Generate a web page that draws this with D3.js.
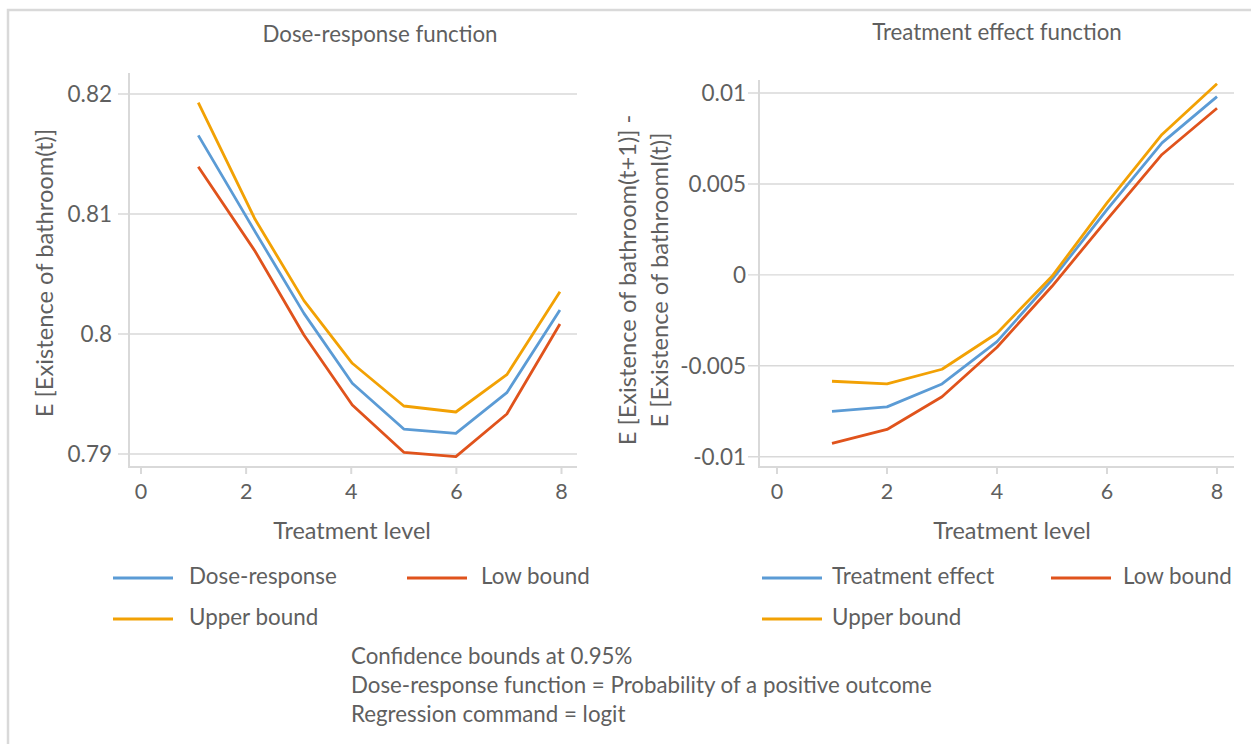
<!DOCTYPE html>
<html>
<head>
<meta charset="utf-8">
<script src="https://cdn.jsdelivr.net/npm/d3@7"></script>
<style>
  html, body { margin: 0; padding: 0; background: #ffffff; }
  svg { display: block; }
  text { font-family: Lato, "Open Sans", sans-serif; fill: #5f5f5f; }
</style>
</head>
<body>
<svg id="chart" width="1251" height="744"></svg>
<script>
// ---------------- data ----------------
const treatmentLevelsDR = [1.09, 2.17, 3.1, 4.02, 5.0, 5.99, 6.96, 7.97];
const doseResponse      = [0.81655, 0.80853, 0.80172, 0.79589, 0.79208, 0.79172, 0.79511, 0.80200];
const lowBoundDR        = [0.81393, 0.80690, 0.79992, 0.79408, 0.79014, 0.78978, 0.79333, 0.80083];
const upperBoundDR      = [0.81928, 0.80956, 0.80278, 0.79756, 0.79400, 0.79350, 0.79661, 0.80353];

const treatmentLevelsTE = [1, 2, 3, 4, 5, 6, 7, 8];
const treatmentEffect   = [-0.00751, -0.00726, -0.00600, -0.00367, -0.00027, 0.00359, 0.00726, 0.00980];
const lowBoundTE        = [-0.00927, -0.00850, -0.00670, -0.00398, -0.00063, 0.00304, 0.00662, 0.00916];
const upperBoundTE      = [-0.00585, -0.00600, -0.00519, -0.00321, -0.00008, 0.00396, 0.00772, 0.01051];

const xTickValues      = [0, 2, 4, 6, 8];
const leftYTickValues  = [0.79, 0.80, 0.81, 0.82];
const leftYTickLabels  = ["0.79", "0.8", "0.81", "0.82"];
const rightYTickValues = [-0.01, -0.005, 0, 0.005, 0.01];
const rightYTickLabels = ["-0.01", "-0.005", "0", "0.005", "0.01"];

const leftSeriesNames  = ["Dose-response", "Low bound", "Upper bound"];
const rightSeriesNames = ["Treatment effect", "Low bound", "Upper bound"];
const seriesColors     = ["#5B9BD5", "#E0531C", "#F2A104"];
const footerLines = [
  "Confidence bounds at 0.95%",
  "Dose-response function = Probability of a positive outcome",
  "Regression command = logit"
];

// ---------------- drawing ----------------
const svg = d3.select("#chart");
const gridColor = "#d9d9d9";

// outer frame
svg.append("rect").attr("x", 8).attr("y", 10).attr("width", 1300).attr("height", 800)
  .attr("fill", "#fff").attr("stroke", gridColor).attr("stroke-width", 2.5);

function panel(cfg) {
  const g = svg.append("g");
  const x = d3.scaleLinear().domain([0, 8]).range(cfg.xRange);
  const y = d3.scaleLinear().domain(cfg.yDomain).range(cfg.yRange);

  // gridlines + outer y ticks
  g.selectAll(".grid").data(cfg.yTicks).join("line")
    .attr("x1", cfg.axisX - 11).attr("x2", cfg.plotRight)
    .attr("y1", d => y(d)).attr("y2", d => y(d))
    .attr("stroke", gridColor).attr("stroke-width", 1.4);

  // y axis line
  g.append("line").attr("x1", cfg.axisX).attr("x2", cfg.axisX)
    .attr("y1", cfg.axisTop).attr("y2", cfg.axisY)
    .attr("stroke", gridColor).attr("stroke-width", 2);
  // x axis line
  g.append("line").attr("x1", cfg.axisX - 1).attr("x2", cfg.plotRight)
    .attr("y1", cfg.axisY).attr("y2", cfg.axisY)
    .attr("stroke", gridColor).attr("stroke-width", 2);

  // x ticks
  g.selectAll(".xt").data(xTickValues).join("line")
    .attr("x1", d => x(d)).attr("x2", d => x(d))
    .attr("y1", cfg.axisY).attr("y2", cfg.axisY + 7)
    .attr("stroke", gridColor).attr("stroke-width", 2);
  g.selectAll(".xl").data(xTickValues).join("text")
    .attr("x", d => x(d)).attr("y", 499)
    .attr("text-anchor", "middle").attr("font-size", 21.5)
    .text(d => d);

  // y tick labels
  g.selectAll(".yl").data(cfg.yTicks).join("text")
    .attr("x", cfg.axisX - cfg.labelGap).attr("y", d => y(d) + 7.8)
    .attr("text-anchor", "end").attr("font-size", 22.5)
    .text((d, i) => cfg.yLabels[i]);

  // lines
  const line = d3.line().x(d => x(d[0])).y(d => y(d[1]));
  cfg.series.forEach((vals, i) => {
    g.append("path")
      .datum(cfg.xs.map((xv, j) => [xv, vals[j]]))
      .attr("d", line).attr("fill", "none")
      .attr("stroke", seriesColors[i]).attr("stroke-width", 2.8)
      .attr("stroke-linejoin", "round");
  });
  // title
  g.append("text").attr("x", cfg.titleX).attr("y", cfg.titleY)
    .attr("text-anchor", "middle").attr("font-size", 22.3).text(cfg.title);
  // x axis title
  g.append("text").attr("x", cfg.xTitleX).attr("y", 539)
    .attr("text-anchor", "middle").attr("font-size", 23.4).text("Treatment level");
  // y axis title lines
  cfg.yTitle.forEach((t, i) => {
    g.append("text")
      .attr("transform", `translate(${cfg.yTitleX[i]},${cfg.yTitleY}) rotate(-90)`)
      .attr("text-anchor", "middle").attr("dy", "0.35em")
      .attr("font-size", 23.7).text(t);
  });

  // legend
  const lg = g.append("g");
  const items = [
    {name: cfg.names[0], c: seriesColors[0], x: cfg.legendX[0], y: 578, tx: cfg.legendTextX[0]},
    {name: cfg.names[1], c: seriesColors[1], x: cfg.legendX[1], y: 578, tx: cfg.legendTextX[1]},
    {name: cfg.names[2], c: seriesColors[2], x: cfg.legendX[0], y: 619, tx: cfg.legendTextX[0]}
  ];
  items.forEach(it => {
    lg.append("line").attr("x1", it.x).attr("x2", it.x + 60)
      .attr("y1", it.y).attr("y2", it.y)
      .attr("stroke", it.c).attr("stroke-width", 3);
    lg.append("text").attr("x", it.tx).attr("y", it.y + 6)
      .attr("font-size", 22.4).text(it.name);
  });
}

panel({
  xRange: [141, 561.5], yDomain: [0.79, 0.82], yRange: [454, 94],
  axisX: 129, axisTop: 73, axisY: 467, plotRight: 577, labelGap: 17,
  yTicks: leftYTickValues, yLabels: leftYTickLabels,
  xs: treatmentLevelsDR, series: [doseResponse, lowBoundDR, upperBoundDR],
  title: "Dose-response function", titleX: 380, titleY: 42, xTitleX: 352,
  yTitle: ["E [Existence of bathroom(t)]"], yTitleX: [45], yTitleY: 273,
  names: leftSeriesNames, legendX: [113, 407], legendTextX: [189, 481]
});

panel({
  xRange: [777, 1217], yDomain: [-0.01, 0.01], yRange: [456.7, 93],
  axisX: 759, axisTop: 80, axisY: 467, plotRight: 1234, labelGap: 13,
  yTicks: rightYTickValues, yLabels: rightYTickLabels,
  xs: treatmentLevelsTE, series: [treatmentEffect, lowBoundTE, upperBoundTE],
  title: "Treatment effect function", titleX: 997, titleY: 40, xTitleX: 1012,
  yTitle: ["E [Existence of bathroom(t+1)] -", "E [Existence of bathroomI(t)]"],
  yTitleX: [628, 660], yTitleY: 280,
  names: rightSeriesNames, legendX: [762, 1051], legendTextX: [832, 1123]
});

// footer
svg.append("g").selectAll("text").data(footerLines).join("text")
  .attr("x", 351).attr("y", (d, i) => 664 + i * 29)
  .attr("font-size", 22.3).text(d => d);
</script>
</body>
</html>
